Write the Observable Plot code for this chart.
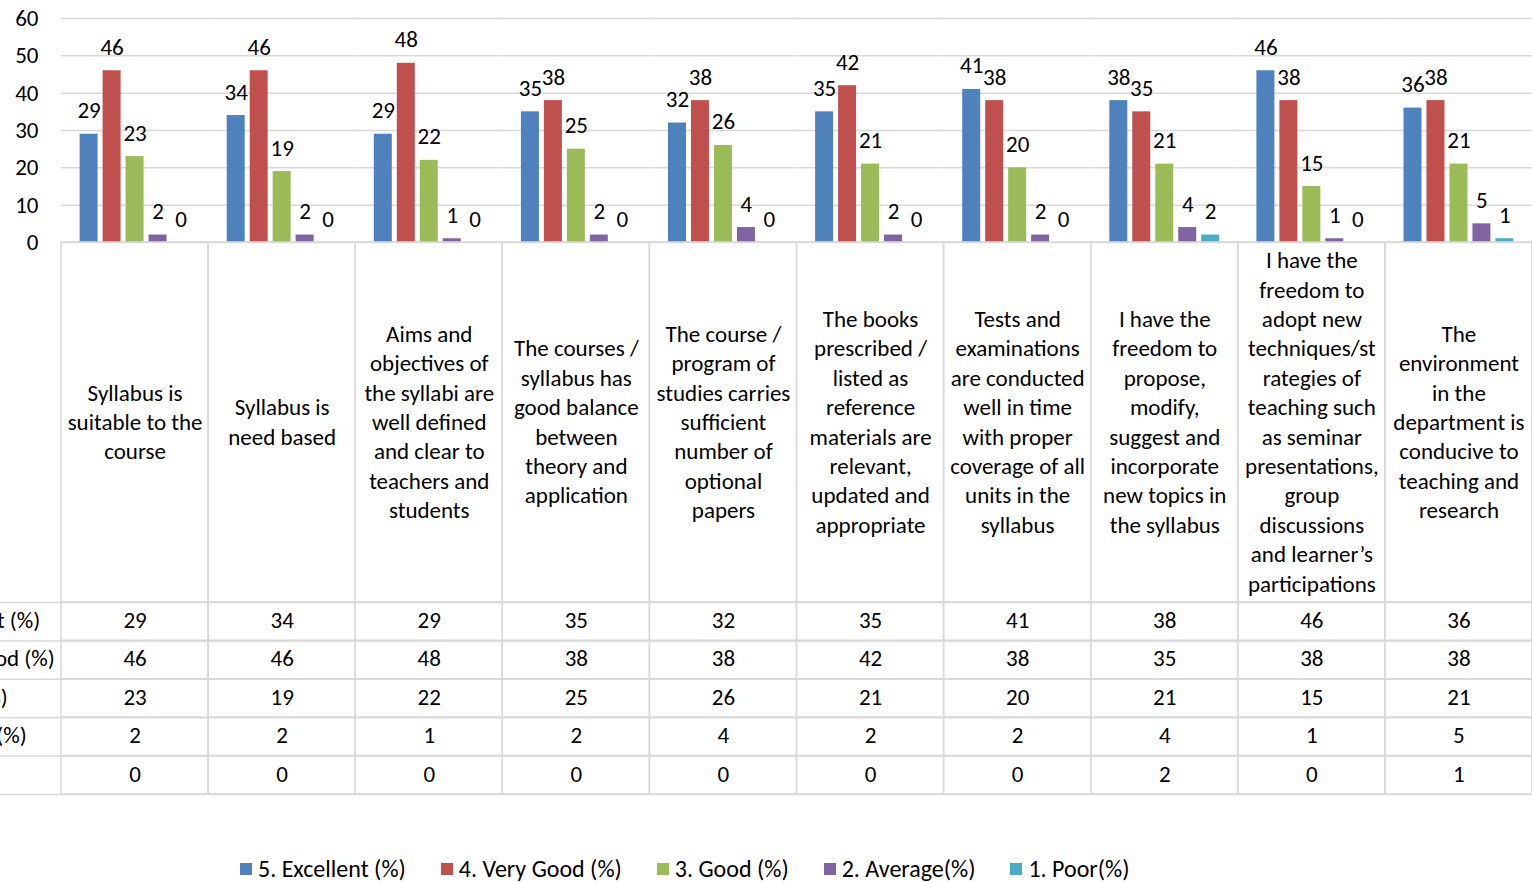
<!DOCTYPE html>
<html><head><meta charset="utf-8">
<script src="https://cdn.jsdelivr.net/npm/d3@7"></script>
<script src="https://cdn.jsdelivr.net/npm/@observablehq/plot@0.6"></script>
<style>
body{margin:0;background:#fff;overflow:hidden}
#wrap{position:relative;width:1532px;height:882px;overflow:hidden;background:#fff}
.layer{position:absolute;left:0}
.lg-swatch{margin-right:35px !important;}
.lg-swatch svg{margin-right:6px !important;}
</style></head><body><div id="wrap"></div>
<script>
const categories = [
  "Syllabus is\nsuitable to the\ncourse",
  "Syllabus is\nneed based",
  "Aims and\nobjectives of\nthe syllabi are\nwell defined\nand clear to\nteachers and\nstudents",
  "The courses /\nsyllabus has\ngood balance\nbetween\ntheory and\napplication",
  "The course /\nprogram of\nstudies carries\nsufficient\nnumber of\noptional\npapers",
  "The books\nprescribed /\nlisted as\nreference\nmaterials are\nrelevant,\nupdated and\nappropriate",
  "Tests and\nexaminations\nare conducted\nwell in time\nwith proper\ncoverage of all\nunits in the\nsyllabus",
  "I have the\nfreedom to\npropose,\nmodify,\nsuggest and\nincorporate\nnew topics in\nthe syllabus",
  "I have the\nfreedom to\nadopt new\ntechniques/st\nrategies of\nteaching such\nas seminar\npresentations,\ngroup\ndiscussions\nand learner’s\nparticipations",
  "The\nenvironment\nin the\ndepartment is\nconducive to\nteaching and\nresearch"
];
const series = ["5. Excellent (%)", "4. Very Good (%)", "3. Good (%)", "2. Average(%)", "1. Poor(%)"];
const excellent = [29, 34, 29, 35, 32, 35, 41, 38, 46, 36];
const veryGood  = [46, 46, 48, 38, 38, 42, 38, 35, 38, 38];
const good      = [23, 19, 22, 25, 26, 21, 20, 21, 15, 21];
const average   = [2, 2, 1, 2, 4, 2, 2, 4, 1, 5];
const poor      = [0, 0, 0, 0, 0, 0, 0, 2, 0, 1];
const colors = ["#4F81BD", "#C0504D", "#9BBB59", "#8064A2", "#4BACC6"];
const yTicks = [0, 10, 20, 30, 40, 50, 60];

const valuesBySeries = [excellent, veryGood, good, average, poor];
const data = categories.flatMap((c, i) => series.map((s, j) => ({category: c, series: s, value: valuesBySeries[j][i], row: j})));

const W = 1532;
const FONT = "Carlito, Lato, sans-serif";
const FS = 23;
const GRID = "#d9d9d9";
const XR = [61, 1532];
const wrap = document.getElementById("wrap");
function place(node, top, left = 0) {
  const d = document.createElement("div");
  d.className = "layer";
  d.style.top = top + "px";
  d.style.left = left + "px";
  d.appendChild(node);
  wrap.appendChild(d);
}
const baseStyle = {fontFamily: FONT, fontSize: FS + "px", color: "#000", background: "transparent"};

// Bar chart
const chart = Plot.plot({
  width: W, height: 254, marginTop: 18, marginBottom: 12, marginLeft: 61, marginRight: 0,
  style: baseStyle,
  fx: {domain: categories, range: XR, padding: 0, round: false, axis: null},
  x: {domain: series, paddingInner: 0.217, paddingOuter: 0.81, round: false, axis: null},
  y: {domain: [0, 60], axis: null},
  color: {domain: series, range: colors},
  marks: [
    Plot.gridY(yTicks, {stroke: GRID, strokeOpacity: 1, strokeWidth: 1.5}),
    Plot.axisY(yTicks, {tickSize: 0, tickPadding: 23, fontSize: FS, label: null, fill: "#000"}),
    Plot.barY(data, {fx: "category", x: "series", y: "value", fill: "series"}),
    Plot.text(data, {fx: "category", x: "series", y: "value", text: d => String(d.value), lineAnchor: "bottom", dy: -16, fontSize: FS, fill: "#000"})
  ]
});
place(chart, 0);

// Category label row
const labelRow = Plot.plot({
  width: W, height: 361, marginTop: 1, marginBottom: 0, marginLeft: 0, marginRight: 0,
  style: baseStyle,
  x: {domain: categories, range: XR, padding: 0, round: false, axis: null},
  marks: [
    Plot.cell(categories, {x: d => d, fill: "none", stroke: GRID, strokeWidth: 1.5}),
    Plot.text(categories, {x: d => d, text: d => d, lineAnchor: "middle", lineHeight: 29.4 / FS, dy: -2, fontSize: FS, fill: "#000"})
  ]
});
place(labelRow, 241);

// Data rows
const rows = Plot.plot({
  width: W, height: 195, marginTop: 1, marginBottom: 1, marginLeft: 0, marginRight: 0,
  style: baseStyle,
  x: {domain: categories, range: XR, padding: 0, round: false, axis: null},
  y: {domain: [0, 5], range: [1, 193], axis: null},
  marks: [
    Plot.ruleY([0, 1, 2, 3, 4, 5], {stroke: GRID, strokeWidth: 1.5}),
    Plot.barY(data, {x: "category", y1: "row", y2: d => d.row + 1, fill: "none", stroke: GRID, strokeWidth: 1.5}),
    Plot.text(data, {x: "category", y: d => d.row + 0.5, text: d => String(d.value), dy: -1, fontSize: FS, fill: "#000"}),
    Plot.text(series, {y: (d, i) => i + 0.5, text: d => d, frameAnchor: "left", textAnchor: "start", dx: -102, dy: -1, fontSize: FS, fill: "#000"})
  ]
});
place(rows, 601);

// Legend
const legend = Plot.legend({
  color: {domain: series, range: colors},
  legend: "swatches", swatchSize: 12, className: "lg",
  style: {fontFamily: FONT, fontSize: "24px", color: "#000"}
});
place(legend, 852, 240);
</script></body></html>
